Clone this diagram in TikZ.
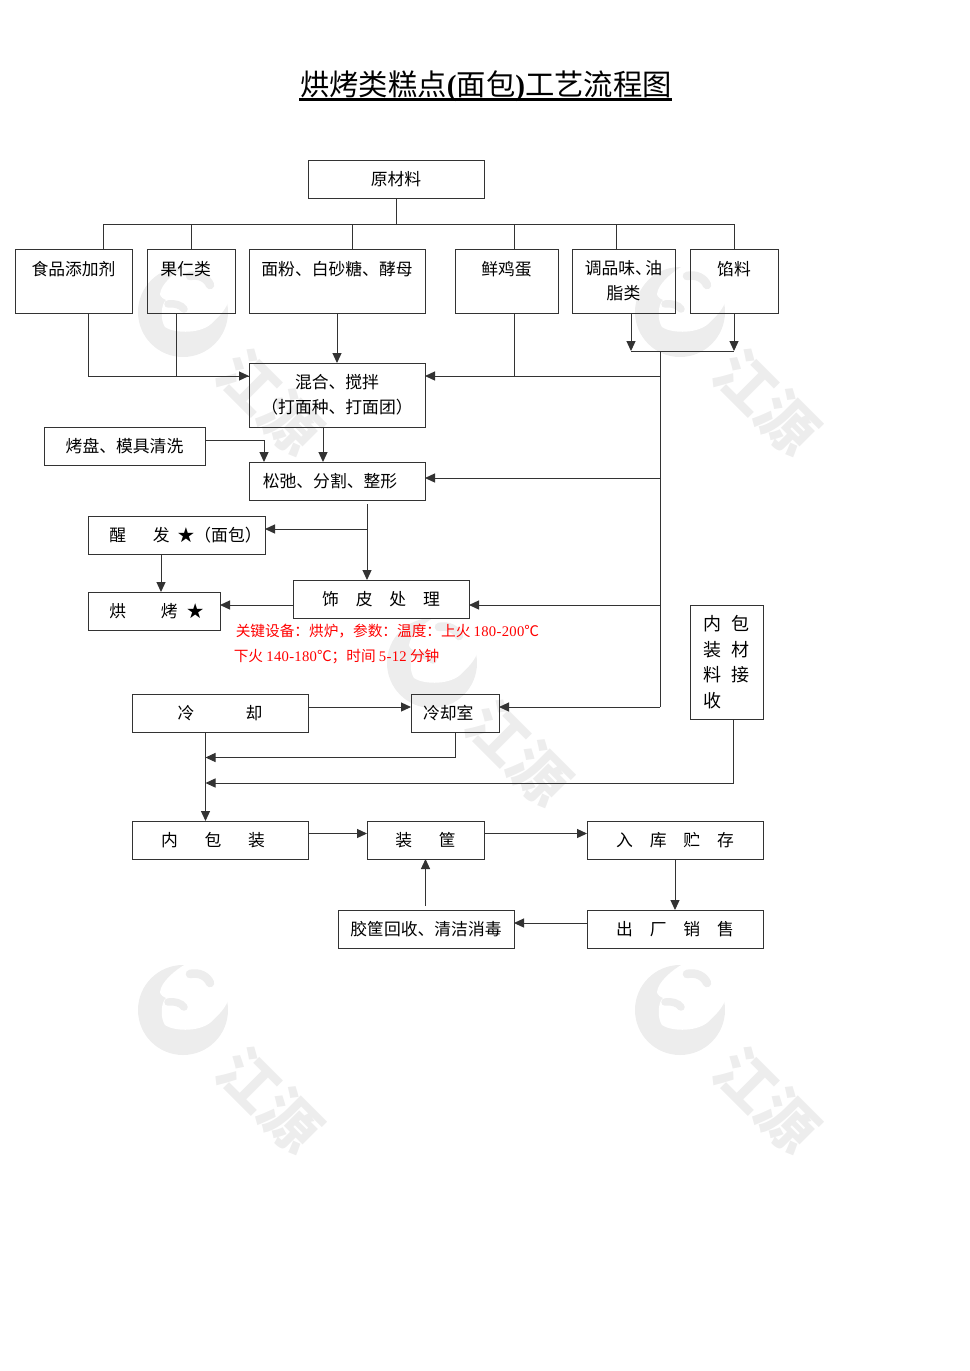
\documentclass[tikz,border=0pt]{standalone}
\usepackage{fontspec}
\setmainfont{Noto Sans CJK SC}
\newfontfamily\latinserif{Liberation Serif}
\newfontfamily\halfdigits[LetterSpace=2]{Liberation Serif}
\usetikzlibrary{arrows.meta}
\tikzset{
    flowbox/.style={draw=black!80, line width=.75pt, inner sep=0pt, outer sep=0pt, align=center, font=\fontsize{12.6}{18.75}\selectfont},
    flowline/.style={draw=black!80, line width=.75pt},
    flowarrow/.style={flowline, -{Triangle[length=7.5pt,width=6.8pt]}},
    keynote/.style={text=red, inner sep=0pt, align=left, anchor=north west, font=\fontsize{11}{18.75}\selectfont},
    markdisc/.style={fill=black!7},
    markstroke/.style={draw=black!7, line cap=round},
    markword/.style={text=black!7, rotate=-45, font=\fontsize{44}{44}\selectfont\bfseries}
}
% box given by its corners, in pixels of the reference
\newcommand{\flowbox}[7][]{\node[flowbox, minimum width={(#4-#2)*.75pt}, minimum height={(#5-#3)*.75pt}, #1] (#6) at ({(#2+#4)/2},{(#3+#5)/2}) {#7};}
\begin{document}
\begin{tikzpicture}[x=.75pt,y=-.75pt]
    \useasboundingbox (0,0) rectangle (970,1371);
    % watermarks
    \foreach \mx/\my in {183/312,680/312,432/663,183/1010,680/1010}{
        \begin{scope}[shift={(\mx,\my)}]
            \fill[markdisc] (0,0) circle[radius=45];
            \fill[white] (3,-46) .. controls (-8,-40) and (-22,-28) .. (-23,-18) .. controls (-23,-15) and (-19,-13) .. (-17,-12)
                .. controls (-22,-8) and (-23,8) .. (-18,15) .. controls (-8,22) and (20,22) .. (30,10)
                .. controls (38,3) and (44,-5) .. (46,-12) -- (50,-48) -- cycle;
            \draw[markstroke, line width=5.6pt] (-15,-8) .. controls (-8,-9) and (-2,-7) .. (1,-3);
            \draw[markstroke, line width=6.4pt] (7,-36) .. controls (16,-38) and (24,-34) .. (27,-27);
            \node[markword] (word\mx\my) at (87,90) {江源};
        \end{scope}
    }
    % title
    \node[inner sep=0pt, font=\fontsize{22}{26}\selectfont] (title) at (486,86) {烘烤类糕点{\latinserif\bfseries(}面包{\latinserif\bfseries)}工艺流程图};
    \coordinate (titleleft) at (299,99.5);
    \coordinate (titleright) at (672,99.5);
    \draw[line width=1.6pt] (titleleft) -- (titleright);
    % boxes
    \flowbox{308}{160}{484}{198}{raw}{原材料}
    \flowbox{15}{249}{132}{313}{additive}{食品添加剂\\ \mbox{}}
    \flowbox{147}{249}{235}{313}{nuts}{果仁类\hspace*{8pt}\\ \mbox{}}
    \flowbox{249}{249}{425}{313}{flour}{面粉、白砂糖、酵母\\ \mbox{}}
    \flowbox{455}{249}{558}{313}{egg}{鲜鸡蛋\\ \mbox{}}
    \flowbox{572}{249}{675}{313}{season}{调品味、\hspace{-5pt}油\\ 脂类}
    \flowbox{690}{249}{778}{313}{filling}{馅料\\ \mbox{}}
    \flowbox{249}{363}{425}{427}{mix}{混合、搅拌\\（打面种、打面团）}
    \flowbox{44}{427}{205}{465}{wash}{烤盘、模具清洗}
    \flowbox{249}{462}{425}{500}{shape}{松弛、分割、整形\hspace*{10.5pt}}
    \flowbox{88}{516}{265}{554}{proof}{\hspace*{13.5pt}醒\hspace{20pt}发\hspace{6pt}★（面包）}
    \flowbox{88}{592}{220}{630}{bake}{\hspace*{3.75pt}烘\hspace{26pt}烤\hspace{7pt}★}
    \flowbox{293}{580}{469}{618}{skin}{饰　皮　处　理}
    \flowbox{132}{694}{308}{732}{cool}{冷\hspace{38.5pt}却}
    \flowbox{411}{694}{499}{732}{room}{冷却室\hspace*{10pt}}
    \flowbox[align=left, text width=35pt, font=\fontsize{13.5}{19.1}\selectfont]{690}{605}{763}{719}{pack}{内\hspace{8pt}包\\装\hspace{8pt}材\\料\hspace{8pt}接\\收}
    \flowbox{132}{821}{308}{859}{inner}{内\hspace{20pt}包\hspace{20pt}装\hspace*{10.5pt}}
    \flowbox{367}{821}{484}{859}{basket}{装\hspace{20pt}筐}
    \flowbox{587}{821}{763}{859}{store}{入　库　贮　存}
    \flowbox{587}{910}{763}{948}{sale}{出　厂　销　售}
    \flowbox{338}{910}{514}{948}{clean}{胶筐回收、清洁消毒}
    \node[keynote] (keyline) at (233.5,624) {\hspace*{1.5pt}关键设备：烘炉，参数：温度：上火 {\halfdigits 180-200}℃\\下火 {\halfdigits 140-180}℃；时间 {\halfdigits 5-12} 分钟};
    % raw material bus
    \coordinate (rawbus) at (396,224);
    \draw[flowline] (raw.south) -- (rawbus);
    \draw[flowline] (rawbus -| 103,0) -- (rawbus -| 734,0);
    \foreach \boxname/\col in {additive/103,nuts/191,flour/352,egg/514,season/616,filling/734}{
        \draw[flowline] (rawbus -| \col,0) -- (\boxname.north -| \col,0);
    }
    % into mixing
    \coordinate (mixbus) at (249,376);
    \draw[flowline] (additive.south -| 88,0) -- (mixbus -| 88,0) -- (mixbus);
    \draw[flowarrow] (nuts.south -| 176,0) -- (mixbus -| 176,0) -- (mix.west |- mixbus);
    \draw[flowarrow] (flour.south -| 337,0) -- (mix.north -| 337,0);
    % right hand trunk
    \coordinate (trunktop) at (660,351);
    \coordinate (trunkend) at (660,707);
    \draw[flowarrow] (season.south -| 631,0) -- (trunktop -| 631,0);
    \draw[flowarrow] (filling.south -| 734,0) -- (trunktop -| 734,0);
    \draw[flowline] (trunktop -| 631,0) -- (trunktop -| 734,0);
    \draw[flowline] (trunktop) -- (trunkend);
    \draw[flowline] (egg.south -| 514,0) -- (mixbus -| 514,0);
    \draw[flowarrow] (trunktop |- mixbus) -- (mix.east |- mixbus);
    \draw[flowarrow] (trunktop |- 0,478) -- (shape.east |- 0,478);
    \draw[flowarrow] (trunktop |- 0,605) -- (skin.east |- 0,605);
    \draw[flowarrow] (trunkend) -- (room.east |- trunkend);
    % middle of the line
    \draw[flowarrow] (mix.south -| 323,0) -- (shape.north -| 323,0);
    \draw[flowarrow] (wash.east |- 0,440) -- (264,440) -- (shape.north -| 264,0);
    \coordinate (shapeout) at (367,504);
    \draw[flowarrow] (shapeout) -- (skin.north -| shapeout);
    \draw[flowarrow] (shapeout |- 0,529) -- (proof.east |- 0,529);
    \draw[flowarrow] (proof.south -| 161,0) -- (bake.north -| 161,0);
    \draw[flowarrow] (skin.west |- 0,605) -- (bake.east |- 0,605);
    \draw[flowarrow] (cool.east |- 0,707) -- (room.west |- 0,707);
    % cooling to packing
    \coordinate (coolbus) at (205.5,757.5);
    \coordinate (packbus) at (205.5,783);
    \draw[flowarrow] (cool.south -| coolbus) -- (inner.north -| coolbus);
    \draw[flowarrow] (room.south -| 455,0) -- (coolbus -| 455,0) -- (coolbus);
    \draw[flowarrow] (pack.south -| 733.5,0) -- (packbus -| 733.5,0) -- (packbus);
    % packing, storage, return
    \draw[flowarrow] (inner.east |- 0,833.5) -- (basket.west |- 0,833.5);
    \draw[flowarrow] (basket.east |- 0,833.5) -- (store.west |- 0,833.5);
    \draw[flowarrow] (store.south -| 675,0) -- (sale.north -| 675,0);
    \draw[flowarrow] (sale.west |- 0,923) -- (clean.east |- 0,923);
    \coordinate (cleanout) at (425.5,906);
    \draw[flowarrow] (cleanout) -- (basket.south -| cleanout);
\end{tikzpicture}
\end{document}
